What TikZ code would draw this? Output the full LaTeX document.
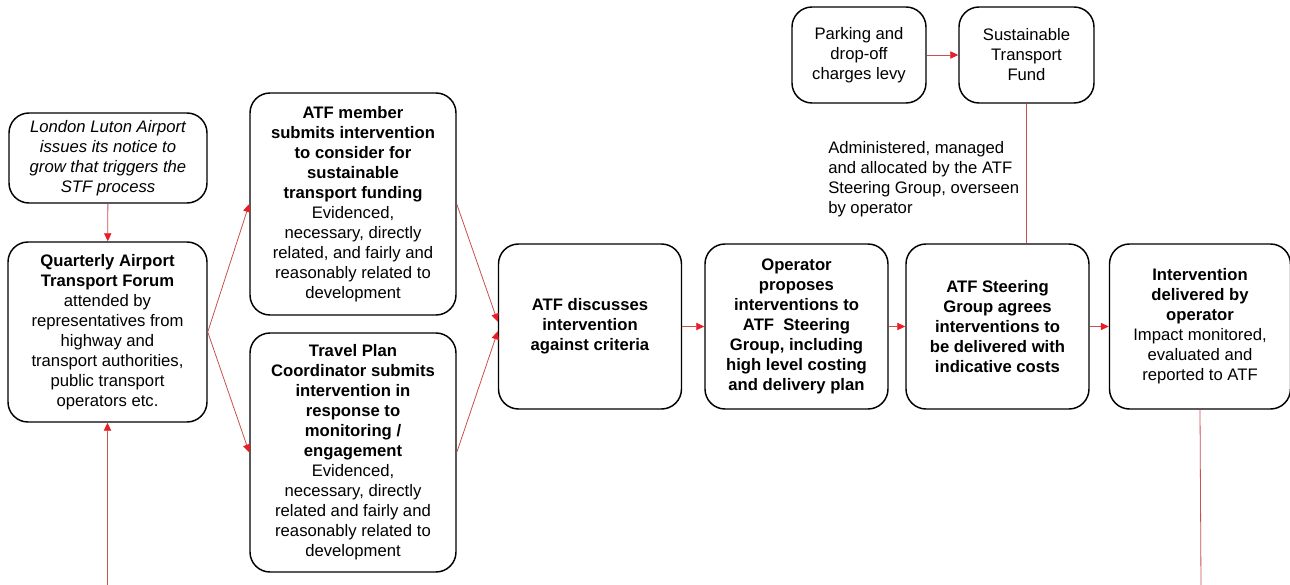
\documentclass[tikz,border=0pt]{standalone}
\usepackage{fontspec}
\setmainfont{Liberation Sans}
\usetikzlibrary{arrows.meta}
\definecolor{linered}{RGB}{200,80,80}
\definecolor{tipred}{RGB}{230,30,40}
\begin{document}
\begin{tikzpicture}[x=0.75pt, y=-0.75pt,
    box/.style={
        draw,
        line width=1.1pt,
        rounded corners=15pt,
        align=center,
        inner sep=2pt,
        font=\fontsize{12.5pt}{15pt}\selectfont
    },
    link/.style={
        draw=linered,
        line width=0.6pt
    },
    flow/.style={
        link,
        -{Triangle[length=6pt,width=5.5pt,color=tipred]}
    }
]

\useasboundingbox (0,0) rectangle (1290,585);

%%%%%%%%%%%%%%%%%%%%%%%%
% Left column
%%%%%%%%%%%%%%%%%%%%%%%%

\node[box, minimum width=148.5pt, minimum height=67.5pt, font=\fontsize{12.5pt}{15pt}\selectfont\itshape] (lla) at (108,158)
    {London Luton Airport\\ issues its notice to\\ grow that triggers the\\ STF process};

\node[box, minimum width=149.25pt, minimum height=135pt] (forum) at (107.5,332)
    {\textbf{Quarterly Airport}\\ \textbf{Transport Forum}\\ attended by\\ representatives from\\ highway and\\ transport authorities,\\ public transport\\ operators etc.};

%%%%%%%%%%%%%%%%%%%%%%%%
% Submissions
%%%%%%%%%%%%%%%%%%%%%%%%

\node[box, minimum width=154.5pt, minimum height=166.5pt] (member) at (353,204)
    {\textbf{ATF member}\\ \textbf{submits intervention}\\ \textbf{to consider for}\\ \textbf{sustainable}\\ \textbf{transport funding}\\ Evidenced,\\ necessary, directly\\ related, and fairly and\\ reasonably related to\\ development};

\node[box, minimum width=154.5pt, minimum height=179.25pt] (coord) at (353,452.5)
    {\textbf{Travel Plan}\\ \textbf{Coordinator submits}\\ \textbf{intervention in}\\ \textbf{response to}\\ \textbf{monitoring /}\\ \textbf{engagement}\\ Evidenced,\\ necessary, directly\\ related and fairly and\\ reasonably related to\\ development};

%%%%%%%%%%%%%%%%%%%%%%%%
% Main row
%%%%%%%%%%%%%%%%%%%%%%%%

\node[box, minimum width=137.25pt, minimum height=123.75pt] (discuss) at (590,326.5)
    {\textbf{ATF discusses}\\ \textbf{intervention}\\ \textbf{against criteria}};

\node[box, minimum width=137.25pt, minimum height=123.75pt] (propose) at (796.5,326.5)
    {\textbf{Operator}\\ \textbf{proposes}\\ \textbf{interventions to}\\ \textbf{ATF \ Steering}\\ \textbf{Group, including}\\ \textbf{high level costing}\\ \textbf{and delivery plan}};

\node[box, minimum width=137.25pt, minimum height=123.75pt] (agree) at (997.5,326.5)
    {\textbf{ATF Steering}\\ \textbf{Group agrees}\\ \textbf{interventions to}\\ \textbf{be delivered with}\\ \textbf{indicative costs}};

\node[box, minimum width=135.75pt, minimum height=123.75pt] (deliver) at (1200,326.5)
    {\textbf{Intervention}\\ \textbf{delivered by}\\ \textbf{operator}\\ Impact monitored,\\ evaluated and\\ reported to ATF};

%%%%%%%%%%%%%%%%%%%%%%%%
% Funding
%%%%%%%%%%%%%%%%%%%%%%%%

\node[box, minimum width=100.5pt, minimum height=72pt] (levy) at (859,55)
    {Parking and\\ drop-off\\ charges levy};

\node[box, minimum width=101.25pt, minimum height=72pt] (fund) at (1026.5,55)
    {Sustainable\\ Transport\\ Fund};

\node[align=left, anchor=north west, inner sep=0pt, font=\fontsize{12.5pt}{15pt}\selectfont] (note) at (828,141)
    {Administered, managed\\ and allocated by the ATF\\ Steering Group, overseen\\ by operator};

% Loop ends (bottom edge)
\coordinate (loopL) at (107.5,585);
\coordinate (loopR) at (1201,585);

%%%%%%%%%%%%%%%%%%%%%%%%
% Connectors
%%%%%%%%%%%%%%%%%%%%%%%%

\draw[flow] (lla) -- (forum);
\draw[flow] (forum.east) -- (member.west);
\draw[flow] (forum.east) -- (coord.west);
\draw[flow] (member.east) -- (discuss.177);
\draw[flow] (coord.east) -- (discuss.183);
\draw[flow] (discuss) -- (propose);
\draw[flow] (propose) -- (agree);
\draw[flow] (agree) -- (deliver);
\draw[flow] (levy) -- (fund);
\draw[link] (fund.south) -- (fund.south |- agree.north);
\draw[link] (deliver.south) -- (loopR);
\draw[flow] (loopL) -- (forum.south);

\end{tikzpicture}
\end{document}
